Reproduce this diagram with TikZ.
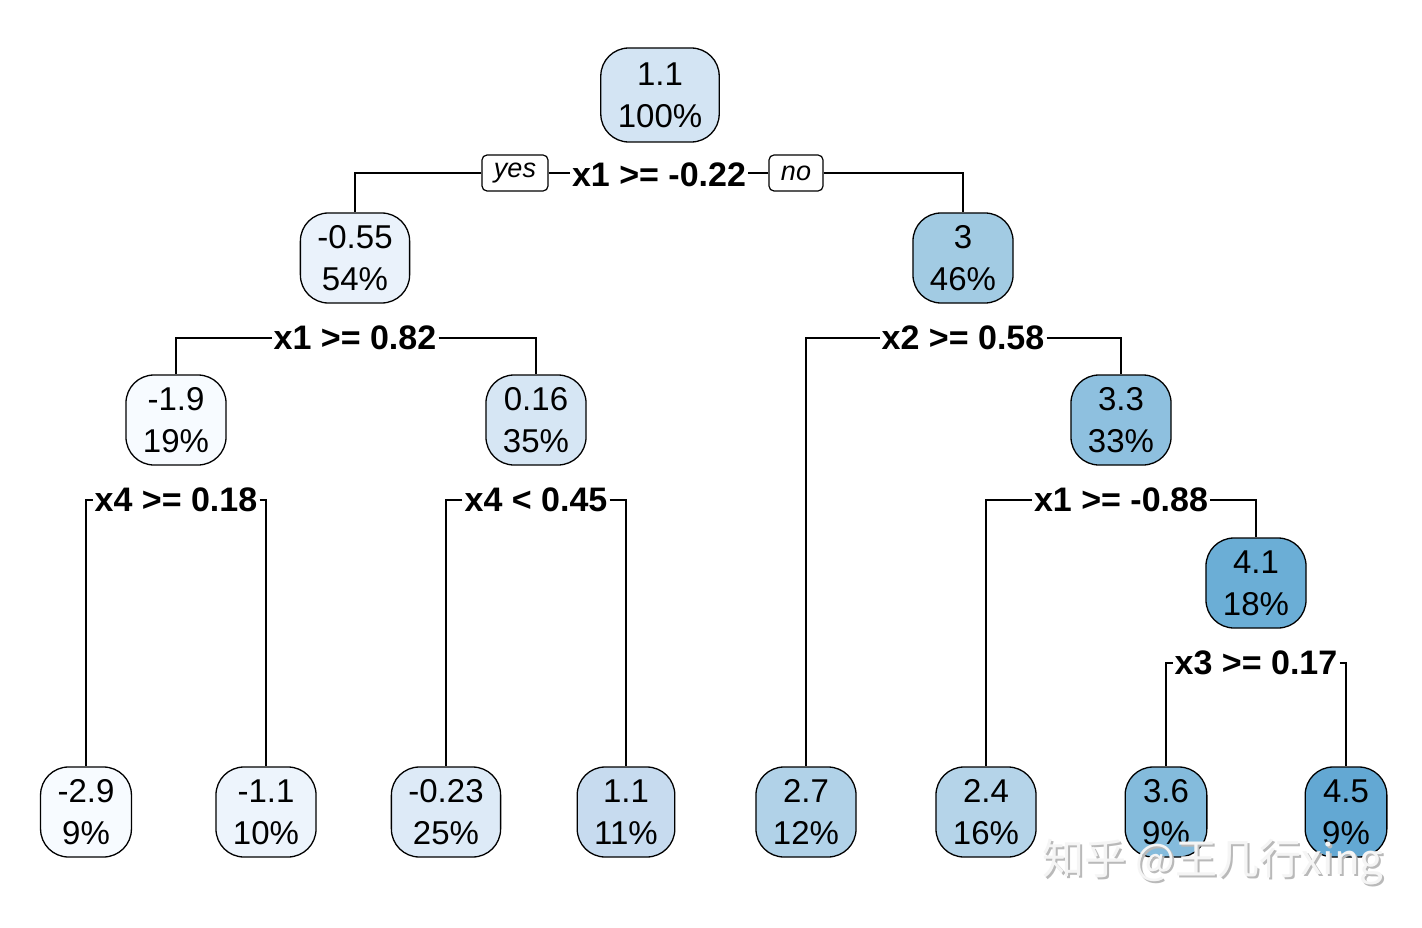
\documentclass[tikz,border=0pt]{standalone}
\usepackage{fontspec}
\setmainfont{Liberation Sans}
\newfontfamily\cjkwm{Noto Sans CJK SC}
\usetikzlibrary{positioning}
\pgfdeclarelayer{bg}
\pgfdeclarelayer{lines}
\pgfsetlayers{bg,lines,main}
\definecolor{cA}{HTML}{F7FBFF}
\definecolor{cB}{HTML}{EDF4FC}
\definecolor{cC}{HTML}{EAF2FB}
\definecolor{cD}{HTML}{DDEAF7}
\definecolor{cE}{HTML}{D3E4F3}
\definecolor{cF}{HTML}{D6E6F4}
\definecolor{cG}{HTML}{C7DBEF}
\definecolor{cH}{HTML}{B1D2E8}
\definecolor{cI}{HTML}{A2CBE3}
\definecolor{cJ}{HTML}{B5D4E9}
\definecolor{cK}{HTML}{8EC0DF}
\definecolor{cL}{HTML}{84BBDC}
\definecolor{cM}{HTML}{6BAED6}
\definecolor{cN}{HTML}{63A8D3}
\tikzset{
  tnode/.style={draw=black, line width=1.3pt, rounded corners=28pt, align=center,
    inner xsep=17pt, inner ysep=0pt, minimum height=90pt,
    font=\fontsize{33}{42}\selectfont},
  splitlab/.style={fill=white, inner xsep=2pt, inner ysep=1pt,
    font=\fontsize{34}{40}\selectfont\bfseries},
  yn/.style={draw=black, fill=white, line width=1.2pt, rounded corners=5pt,
    inner xsep=12pt, minimum height=36pt, font=\fontsize{27}{30}\selectfont\itshape},
  conn/.style={draw=black, line width=1.3pt}
}
\begin{document}
\begin{tikzpicture}[x=1pt,y=-1pt]
\useasboundingbox (0,0) rectangle (1422,928);
\begin{pgfonlayer}{bg}
\fill[white] (0,0) rectangle (1422,928);
\end{pgfonlayer}
% nodes
\node[tnode, fill=cE, minimum height=94pt] (root) at (660,95) {1.1\\100\%};
\node[splitlab] (s0) at (659,175) {x1 >= -0.22};
\node[yn] (yes) at (515,173) {yes};
\node[yn] (no) at (796,173) {no};

\node[tnode, fill=cC] (n2) at (355,258) {-0.55\\54\%};
\node[tnode, fill=cI] (n3) at (963,258) {3\\46\%};

\node[splitlab] (s2) at (355,338) {x1 >= 0.82};
\node[splitlab] (s3) at (963,338) {x2 >= 0.58};

\node[tnode, fill=cA] (n4) at (176,420) {-1.9\\19\%};
\node[tnode, fill=cF] (n5) at (536,420) {0.16\\35\%};
\node[tnode, fill=cK] (n7) at (1121,420) {3.3\\33\%};

\node[splitlab] (s4) at (176,500) {x4 >= 0.18};
\node[splitlab] (s5) at (536,500) {x4 < 0.45};
\node[splitlab] (s7) at (1121,500) {x1 >= -0.88};

\node[tnode, fill=cM] (n15) at (1256,583) {4.1\\18\%};
\node[splitlab] (s15) at (1256,663) {x3 >= 0.17};

\node[tnode, fill=cA] (l1) at (86,812) {-2.9\\9\%};
\node[tnode, fill=cB] (l2) at (266,812) {-1.1\\10\%};
\node[tnode, fill=cD] (l3) at (446,812) {-0.23\\25\%};
\node[tnode, fill=cG] (l4) at (626,812) {1.1\\11\%};
\node[tnode, fill=cH] (l5) at (806,812) {2.7\\12\%};
\node[tnode, fill=cJ] (l6) at (986,812) {2.4\\16\%};
\node[tnode, fill=cL] (l7) at (1166,812) {3.6\\9\%};
\node[tnode, fill=cN] (l8) at (1346,812) {4.5\\9\%};

% connectors
\begin{pgfonlayer}{lines}
\draw[conn] (yes.east) -- (no.west);
\draw[conn] (yes.west) -| (n2.north);
\draw[conn] (no.east) -| (n3.north);
\draw[conn] (s2.west) -| (n4.north);
\draw[conn] (s2.east) -| (n5.north);
\draw[conn] (s3.west) -| (l5.north);
\draw[conn] (s3.east) -| (n7.north);
\draw[conn] (s4.west) -| (l1.north);
\draw[conn] (s4.east) -| (l2.north);
\draw[conn] (s5.west) -| (l3.north);
\draw[conn] (s5.east) -| (l4.north);
\draw[conn] (s7.west) -| (l6.north);
\draw[conn] (s7.east) -| (n15.north);
\draw[conn] (s15.west) -| (l7.north);
\draw[conn] (s15.east) -| (l8.north);
\end{pgfonlayer}

% watermark
\node[text=gray!55, font=\fontsize{42}{46}\selectfont\cjkwm] (wmshadow) at (1215,864) {知乎 @王几行xing};
\node[text=white!92!gray, font=\fontsize{42}{46}\selectfont\cjkwm] (wm) at (1213,862) {知乎 @王几行xing};
\end{tikzpicture}
\end{document}
